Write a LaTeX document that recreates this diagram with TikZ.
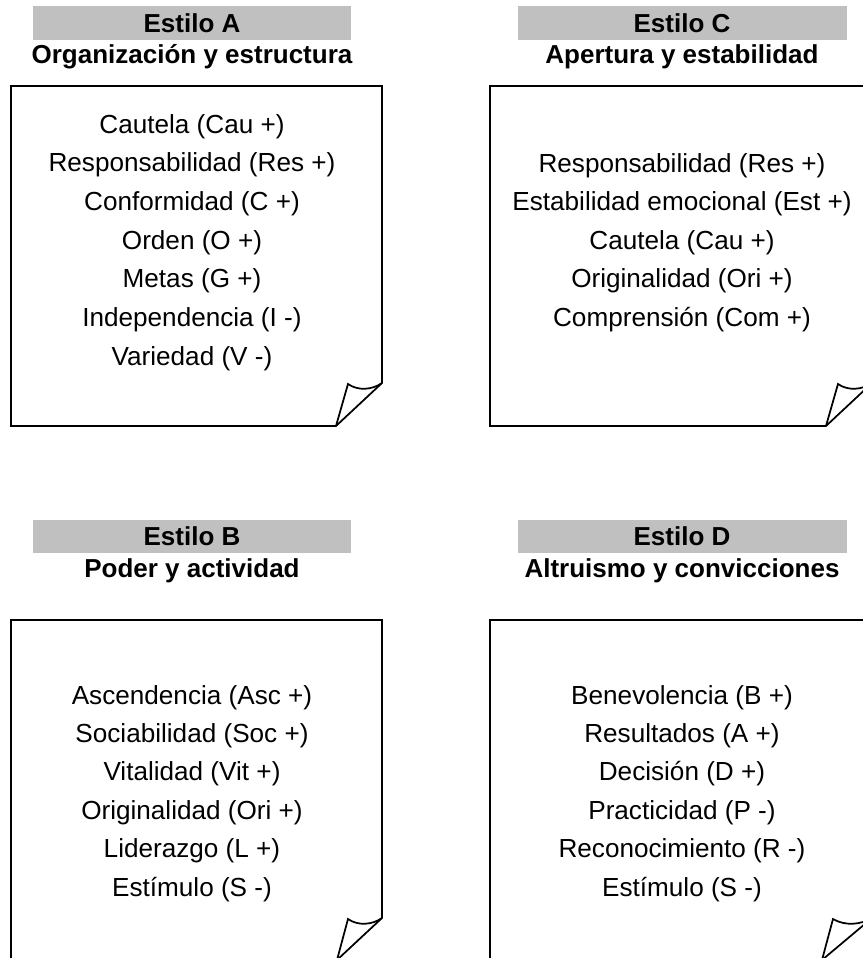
\documentclass[tikz,border=0pt]{standalone}
\usepackage{fontspec}
\setmainfont{Liberation Sans}
\usepackage{tikz}

\definecolor{barra}{HTML}{C0C0C0}

\begin{document}
\begin{tikzpicture}[x=0.75pt, y=-0.75pt,
        hoja/.style={draw=black, line width=1.3pt, line join=miter},
        barrita/.style={fill=barra, draw=none},
        titulo/.style={anchor=base, inner sep=0pt, font=\fontsize{19.5}{23}\selectfont\bfseries},
        rasgo/.style={anchor=base, inner sep=0pt, font=\fontsize{19.6}{23}\selectfont}]

        \path[use as bounding box] (0,0) rectangle (863,958);

        % Header bars
        \fill[barrita] (33,6) rectangle (351,40);
        \fill[barrita] (518,6) rectangle (847,40);
        \fill[barrita] (33,520) rectangle (351,553);
        \fill[barrita] (518,520) rectangle (847,553);

        % Titles
        \node[titulo] (estA) at (192,32) {Estilo A};
        \node[titulo] (subA) at (192,63) {Organización y estructura};
        \node[titulo] (estC) at (682,32) {Estilo C};
        \node[titulo] (subC) at (682,63) {Apertura y estabilidad};
        \node[titulo] (estB) at (192,545) {Estilo B};
        \node[titulo] (subB) at (192,577) {Poder y actividad};
        \node[titulo] (estD) at (682,545) {Estilo D};
        \node[titulo] (subD) at (682,577) {Altruismo y convicciones};

        % Sheets with curled corner
        \draw[hoja] (11,86) -- (382,86) -- (382,383) -- (336,426) -- (11,426) -- cycle;
        \draw[hoja] (336,426) -- (348,384) .. controls (358,391) and (372,390) .. (382,383);

        \draw[hoja] (490,86) -- (872,86) -- (872,383) -- (826,426) -- (490,426) -- cycle;
        \draw[hoja] (826,426) -- (838,384) .. controls (848,391) and (862,390) .. (872,383);

        \draw[hoja] (11,620) -- (382,620) -- (382,918) -- (337,960) -- (11,960) -- cycle;
        \draw[hoja] (337,960) -- (348,919) .. controls (358,926) and (372,925) .. (382,918);

        \draw[hoja] (490,620) -- (872,620) -- (872,918) -- (822,960) -- (490,960) -- cycle;
        \draw[hoja] (822,960) -- (833,919) .. controls (845,926) and (860,925) .. (872,918);

        % Traits
        \foreach \t [count=\i] in {Cautela (Cau +), Responsabilidad (Res +), Conformidad (C +),
            Orden (O +), Metas (G +), Independencia (I -), Variedad (V -)}
            \node[rasgo] (A-\i) at (192,{133+(\i-1)*38.7}) {\t};

        \foreach \t [count=\i] in {Responsabilidad (Res +), Estabilidad emocional (Est +),
            Cautela (Cau +), Originalidad (Ori +), Comprensión (Com +)}
            \node[rasgo] (C-\i) at (682,{172+(\i-1)*38.6}) {\t};

        \foreach \t [count=\i] in {Ascendencia (Asc +), Sociabilidad (Soc +), Vitalidad (Vit +),
            Originalidad (Ori +), Liderazgo (L +), Estímulo (S -)}
            \node[rasgo] (B-\i) at (192,{704+(\i-1)*38.4}) {\t};

        \foreach \t [count=\i] in {Benevolencia (B +), Resultados (A +), Decisión (D +),
            Practicidad (P -), Reconocimiento (R -), Estímulo (S -)}
            \node[rasgo] (D-\i) at (682,{704+(\i-1)*38.4}) {\t};

    \end{tikzpicture}
\end{document}
